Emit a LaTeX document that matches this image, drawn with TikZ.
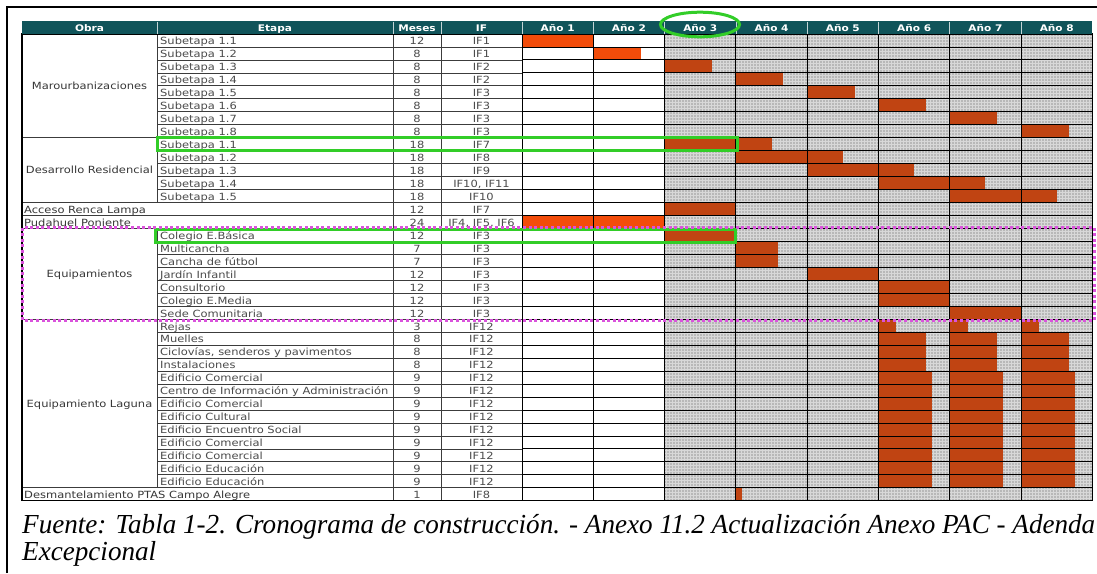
\documentclass[tikz,border=0pt]{standalone}
\usepackage{fontspec}
\setmainfont{Liberation Serif}
\newfontfamily\tabfont{DejaVu Sans}[FakeStretch=1.16]
\usetikzlibrary{patterns}
\definecolor{hdr}{RGB}{16,84,90}
\definecolor{barA}{RGB}{242,76,10}
\definecolor{barB}{RGB}{192,68,18}
\definecolor{cellgray}{RGB}{184,184,184}
\definecolor{txt}{RGB}{75,75,75}
\definecolor{obratxt}{RGB}{55,55,55}
\definecolor{hlgreen}{RGB}{50,205,40}
\definecolor{hlmag}{RGB}{218,82,220}
\definecolor{tline}{RGB}{60,60,60}
\newsavebox\capbox
\newlength\capw
\begin{document}
\sbox\capbox{\fontsize{27.5}{30}\selectfont\itshape Fuente: Tabla 1-2. Cronograma de construcción. - Anexo 11.2 Actualización Anexo PAC - Adenda}%
\setlength\capw{\wd\capbox}%
\pgfmathsetmacro\capsc{1073/\capw}%
\begin{tikzpicture}[x=1pt,y=-1pt,
  cell/.style={inner sep=0pt, font=\tabfont\fontsize{9.9}{10}\selectfont, text=txt},
  obra/.style={inner sep=0pt, font=\tabfont\fontsize{9.9}{10}\selectfont, text=obratxt},
  hdrtxt/.style={inner sep=0pt, anchor=base, font=\tabfont\bfseries\fontsize{9.1}{10}\selectfont, text=white},
  lline/.style={draw=tline, line width=0.8pt},
  kline/.style={draw=black, line width=0.9pt},
  hsep/.style={draw=white!75!hdr, line width=0.8pt},
  greenbox/.style={draw=hlgreen, line width=3pt},
  magbox/.style={draw=hlmag, line width=3pt, dash pattern=on 3pt off 2.6pt},
  captxt/.style={inner sep=0pt, anchor=base west}]
\useasboundingbox (0,0) rectangle (1097,573);
\fill[white] (0,0) rectangle (1097,573);
\def\RT{34}
\def\RH{12.966}
\def\YA{522}
\def\YW{71.3}
\pgfmathsetmacro\mw{\YW/12}
\pgfmathsetmacro\TB{\RT+36*\RH}
\pgfmathsetmacro\XE{\YA+8*\YW}
% frame
\draw[line width=2pt] (7,573) -- (7,7) -- (1097,7);
% gantt background
\fill[cellgray] ({\YA+2*\YW},\RT) rectangle (\XE,\TB);
\fill[pattern=grid, pattern color=white!45!cellgray] ({\YA+2*\YW},\RT) rectangle (\XE,\TB);
% bars
\foreach \r/\s/\l/\c in {0/0/12/barA, 1/12/8/barA, 2/24/8/barB, 3/36/8/barB, 4/48/8/barB,
  5/60/8/barB, 6/72/8/barB, 7/84/8/barB, 8/24/18/barB, 9/36/18/barB, 10/48/18/barB,
  11/60/18/barB, 12/72/18/barB, 13/24/12/barB, 14/0/24/barA, 15/24/11.8/barB,
  16/36/7/barB, 17/36/7/barB, 18/48/12/barB, 19/60/12/barB, 20/60/12/barB, 21/72/12/barB,
  22/60/3/barB, 22/72/3/barB, 22/84/3/barB,
  23/60/8/barB, 23/72/8/barB, 23/84/8/barB, 24/60/8/barB, 24/72/8/barB, 24/84/8/barB,
  25/60/8/barB, 25/72/8/barB, 25/84/8/barB,
  35/36/1/barB}{
  \fill[\c] ({\YA+\s*\mw},{\RT+\r*\RH}) rectangle ({\YA+(\s+\l)*\mw},{\RT+(\r+1)*\RH});
}
\foreach \s in {60,72,84}{
  \fill[barB] ({\YA+\s*\mw},{\RT+26*\RH}) rectangle ({\YA+(\s+9)*\mw},{\RT+35*\RH});
}
% horizontal lines
\foreach \i in {1,...,35}{
  \draw[lline] (157,{\RT+\i*\RH}) -- (\YA,{\RT+\i*\RH});
  \draw[kline] (\YA,{\RT+\i*\RH}) -- (\XE,{\RT+\i*\RH});
}
\foreach \i in {8,13,14,15,22,35}{
  \draw[lline] (22,{\RT+\i*\RH}) -- (157,{\RT+\i*\RH});
}
% vertical lines
\draw[lline] (157,\RT) -- (157,{\RT+13*\RH});
\draw[lline] (157,{\RT+15*\RH}) -- (157,{\RT+35*\RH});
\foreach \x in {393,441}{\draw[lline] (\x,\RT) -- (\x,\TB);}
\foreach \k in {0,...,7}{\draw[kline] ({\YA+\k*\YW},\RT) -- ({\YA+\k*\YW},\TB);}
\draw[line width=1.2pt] (22,\RT) rectangle (\XE,\TB);
% header
\fill[hdr] (22,21) rectangle (\XE,\RT);
\foreach \x in {157,393,441}{\draw[hsep] (\x,21.5) -- (\x,\RT);}
\foreach \k in {0,...,7}{\draw[hsep] ({\YA+\k*\YW},21.5) -- ({\YA+\k*\YW},\RT);}
\node[hdrtxt] (hobra) at (89.5,31.2) {Obra};
\node[hdrtxt] (hetapa) at (275,31.2) {Etapa};
\node[hdrtxt] (hmeses) at (417,31.2) {Meses};
\node[hdrtxt] (hif) at (481.5,31.2) {IF};
\foreach \k in {1,...,8}{
  \node[hdrtxt] (hy\k) at ({\YA+(\k-0.5)*\YW},31.2) {Año \k};
}
% etapa texts
\foreach \i/\t in {0/Subetapa 1.1, 1/Subetapa 1.2, 2/Subetapa 1.3, 3/Subetapa 1.4, 4/Subetapa 1.5,
  5/Subetapa 1.6, 6/Subetapa 1.7, 7/Subetapa 1.8, 8/Subetapa 1.1, 9/Subetapa 1.2, 10/Subetapa 1.3,
  11/Subetapa 1.4, 12/Subetapa 1.5, 15/Colegio E.Básica, 16/Multicancha, 17/Cancha de fútbol,
  18/Jardín Infantil, 19/Consultorio, 20/Colegio E.Media, 21/Sede Comunitaria, 22/Rejas,
  23/Muelles, 24/{Ciclovías, senderos y pavimentos}, 25/Instalaciones, 26/Edificio Comercial,
  27/Centro de Información y Administración, 28/Edificio Comercial, 29/Edificio Cultural,
  30/Edificio Encuentro Social, 31/Edificio Comercial, 32/Edificio Comercial,
  33/Edificio Educación, 34/Edificio Educación}{
  \node[cell, anchor=base west] (e\i) at (160,{\RT+(\i+1)*\RH-2.2}) {\t};
}
% meses / IF
\foreach \i/\m/\f in {0/12/IF1, 1/8/IF1, 2/8/IF2, 3/8/IF2, 4/8/IF3, 5/8/IF3, 6/8/IF3, 7/8/IF3,
  8/18/IF7, 9/18/IF8, 10/18/IF9, 11/18/{IF10, IF11}, 12/18/IF10, 13/12/IF7, 14/24/{IF4, IF5, IF6},
  15/12/IF3, 16/7/IF3, 17/7/IF3, 18/12/IF3, 19/12/IF3, 20/12/IF3, 21/12/IF3,
  22/3/IF12, 23/8/IF12, 24/8/IF12, 25/8/IF12, 26/9/IF12, 27/9/IF12, 28/9/IF12, 29/9/IF12,
  30/9/IF12, 31/9/IF12, 32/9/IF12, 33/9/IF12, 34/9/IF12, 35/1/IF8}{
  \node[cell, anchor=base] (m\i) at (417,{\RT+(\i+1)*\RH-2.2}) {\m};
  \node[cell, anchor=base] (f\i) at (481.5,{\RT+(\i+1)*\RH-2.2}) {\f};
}
% obra texts
\node[obra, anchor=base] (g1) at (89.5,{\RT+4*\RH+3.6}) {Marourbanizaciones};
\node[obra, anchor=base] (g2) at (89.5,{\RT+10.5*\RH+3.6}) {Desarrollo Residencial};
\node[obra, anchor=base west] (g3) at (24,{\RT+14*\RH-2.2}) {Acceso Renca Lampa};
\node[obra, anchor=base west] (g4) at (24,{\RT+15*\RH-2.2}) {Pudahuel Poniente};
\node[obra, anchor=base] (g5) at (89.5,{\RT+18.5*\RH+3.6}) {Equipamientos};
\node[obra, anchor=base] (g6) at (89.5,{\RT+28.5*\RH+3.6}) {Equipamiento Laguna};
\node[obra, anchor=base west] (g7) at (24,{\RT+36*\RH-2.2}) {Desmantelamiento PTAS Campo Alegre};
% highlights
\draw[greenbox] (700,24.5) ellipse [x radius=39.5, y radius=12.3];
\draw[greenbox] (157,137) rectangle (737,150.5);
\draw[greenbox] (155,229) rectangle (735.5,242.5);
\draw[magbox] (22.5,227.5) rectangle (1094,320.5);
% caption
\node[captxt] (cap1) at (22,533.3) {\scalebox{\capsc}[1]{\usebox\capbox}};
\node[captxt] (cap2) at (22,560.8) {\scalebox{\capsc}[1]{\fontsize{27.5}{30}\selectfont\itshape Excepcional}};
\end{tikzpicture}
\end{document}
